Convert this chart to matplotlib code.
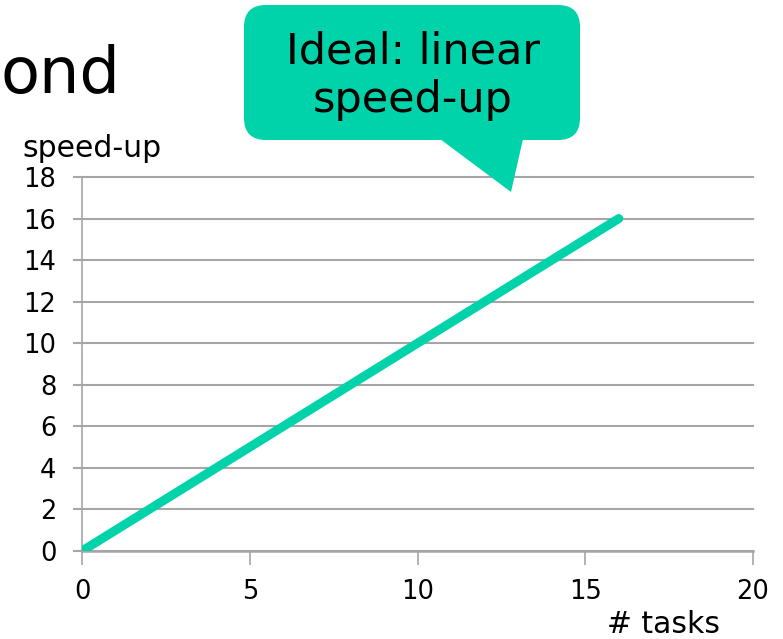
import matplotlib
matplotlib.use('Agg')
import matplotlib.pyplot as plt
from matplotlib.patches import FancyBboxPatch, Polygon

# data
tasks = [0, 1, 2, 4, 8, 16]
speedup = [0, 1, 2, 4, 8, 16]
x_ticks = [0, 5, 10, 15, 20]
y_ticks = [0, 2, 4, 6, 8, 10, 12, 14, 16, 18]

teal = '#00D2AA'
grid_gray = '#A6A6A6'

plt.rcParams['font.family'] = 'DejaVu Sans'

W, H = 783, 639
fig = plt.figure(figsize=(W / 100, H / 100), dpi=100)

# chart axes, placed in pixels
x0, x1 = 82, 753
y_top, y_bot = 177, 551
ax = fig.add_axes([x0 / W, (H - y_bot) / H, (x1 - x0) / W, (y_bot - y_top) / H])

ax.plot(tasks, speedup, color=teal, linewidth=6.5, solid_capstyle='round', zorder=3)

ax.set_xlim(0, 20)
ax.set_ylim(0, 18)
ax.set_xticks(x_ticks)
ax.set_yticks(y_ticks)
ax.yaxis.grid(True, color=grid_gray, linewidth=1.5)
for gl in ax.get_ygridlines():
    gl.set_clip_on(False)
ax.set_axisbelow(True)

for side in ['top', 'right']:
    ax.spines[side].set_visible(False)
ax.spines['left'].set_color(grid_gray)
ax.spines['bottom'].set_color(grid_gray)
ax.spines['left'].set_linewidth(1.2)
ax.spines['bottom'].set_linewidth(1.8)

ax.tick_params(axis='x', length=10, width=1.2, color=grid_gray, labelsize=18.5, pad=10)
ax.tick_params(axis='y', length=6.5, width=1.5, color=grid_gray, labelsize=18.5, pad=12)

# axis labels like in the slide
fig.text(22 / W, (H - 157) / H, 'speed-up', fontsize=21.5, ha='left', va='baseline')
fig.text(720 / W, (H - 633) / H, '# tasks', fontsize=21.5, ha='right', va='baseline')

# overlay for title fragment and callout
ov = fig.add_axes([0, 0, 1, 1], zorder=10)
ov.set_xlim(0, W)
ov.set_ylim(H, 0)
ov.axis('off')
ov.patch.set_alpha(0)

ov.text(0, 93, 'ond', fontsize=46, ha='left', va='baseline')

box = FancyBboxPatch((264, 25), 296, 95,
                     boxstyle='round,pad=20,rounding_size=22',
                     facecolor=teal, edgecolor='none')
ov.add_patch(box)
tail = Polygon([(440, 139), (511, 192), (523, 139)], closed=True,
               facecolor=teal, edgecolor='none')
ov.add_patch(tail)
ov.text(413, 52, 'Ideal: linear', fontsize=31, ha='center', va='center')
ov.text(413, 100, 'speed-up', fontsize=31, ha='center', va='center')

fig.savefig('out.png', dpi=100)
